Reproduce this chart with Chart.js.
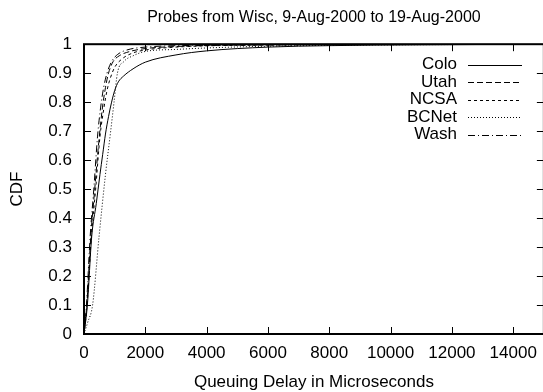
<!DOCTYPE html>
<html>
<head>
<meta charset="utf-8">
<script src="https://cdn.jsdelivr.net/npm/chart.js@4/dist/chart.umd.min.js"></script>
<style>
  html, body { margin: 0; padding: 0; background: #fff; overflow: hidden; }
  #wrap { width: 546px; height: 392px; }
</style>
</head>
<body>
<div id="wrap"><canvas id="myChart" width="546" height="392"></canvas></div>
<script>
// values (delay in microseconds -> CDF)
const seriesNames = ['Colo', 'Utah', 'NCSA', 'BCNet', 'Wash'];

const delayColo = [0, 110, 250, 400, 520, 610, 700, 800, 900, 1000, 1120, 1290, 1600, 2000, 3000, 4000, 6000, 8000, 11000, 15000];
const cdfColo   = [0, 0.1, 0.335, 0.45, 0.55, 0.62, 0.69, 0.75, 0.80, 0.84, 0.87, 0.89, 0.915, 0.938, 0.963, 0.977, 0.99, 0.995, 0.998, 1];

const delayUtah = [0, 90, 220, 350, 480, 600, 700, 800, 950, 1150, 1500, 2000, 3000, 5000, 15000];
const cdfUtah   = [0, 0.1, 0.335, 0.5, 0.66, 0.78, 0.85, 0.9, 0.94, 0.96, 0.975, 0.985, 0.992, 0.997, 1];

const delayNcsa = [0, 100, 240, 380, 520, 650, 750, 850, 1000, 1250, 1600, 2000, 3000, 5000, 15000];
const cdfNcsa   = [0, 0.1, 0.335, 0.5, 0.68, 0.78, 0.84, 0.88, 0.92, 0.95, 0.97, 0.98, 0.99, 0.996, 1];

const delayBcnet = [0, 120, 280, 490, 700, 870, 980, 1090, 1300, 1600, 2000, 3000, 4000, 6000, 9000, 15000];
const cdfBcnet   = [0, 0.04, 0.1, 0.335, 0.55, 0.70, 0.80, 0.90, 0.94, 0.96, 0.975, 0.982, 0.987, 0.993, 0.997, 1];

const delayWash = [0, 80, 200, 320, 440, 540, 640, 750, 900, 1100, 1400, 2000, 4000, 15000];
const cdfWash   = [0, 0.1, 0.335, 0.5, 0.68, 0.78, 0.85, 0.9, 0.94, 0.965, 0.98, 0.99, 0.996, 1];

const xTicks = [0, 2000, 4000, 6000, 8000, 10000, 12000, 14000];
const yTicks = [0, 0.1, 0.2, 0.3, 0.4, 0.5, 0.6, 0.7, 0.8, 0.9, 1];

const FONT = 'Liberation Sans, Arial, sans-serif';

function pts(xs, ys) { return xs.map((x, i) => ({x: x, y: ys[i]})); }

const dashes = {
  Colo: [],
  Utah: [6, 3],
  NCSA: [3, 3],
  BCNet: [1, 2],
  Wash: [7, 3, 1, 3]
};

const allData = [
  pts(delayColo, cdfColo),
  pts(delayUtah, cdfUtah),
  pts(delayNcsa, cdfNcsa),
  pts(delayBcnet, cdfBcnet),
  pts(delayWash, cdfWash)
];

const datasets = seriesNames.map((name, i) => ({
  label: name,
  data: allData[i],
  borderColor: '#000',
  borderWidth: 1,
  borderDash: dashes[name],
  pointRadius: 0,
  fill: false,
  cubicInterpolationMode: 'monotone'
}));

// frame, inward ticks on all four sides, and gnuplot-like key
const gnuplotFrame = {
  id: 'gnuplotFrame',
  afterDatasetsDraw(chart) {
    const ctx = chart.ctx;
    const a = chart.chartArea;
    const xs = chart.scales.x, ys = chart.scales.y;
    ctx.save();
    ctx.strokeStyle = '#000';
    ctx.lineWidth = 1;
    ctx.setLineDash([]);
    ctx.beginPath();
    xTicks.forEach(v => {
      const px = Math.round(xs.getPixelForValue(v)) + 0.5;
      ctx.moveTo(px, a.bottom); ctx.lineTo(px, a.bottom - 7);
      ctx.moveTo(px, a.top); ctx.lineTo(px, a.top + 7);
    });
    yTicks.forEach(v => {
      const py = Math.round(ys.getPixelForValue(v)) + 0.5;
      ctx.moveTo(a.left, py); ctx.lineTo(a.left + 7, py);
      ctx.moveTo(a.right, py); ctx.lineTo(a.right - 7, py);
    });
    ctx.stroke();
    ctx.lineWidth = 2;
    ctx.strokeRect(a.left, a.top, a.right - a.left, a.bottom - a.top);

    // key
    ctx.font = '17px ' + FONT;
    ctx.fillStyle = '#000';
    ctx.textAlign = 'right';
    ctx.textBaseline = 'middle';
    ctx.lineWidth = 1;
    seriesNames.forEach((name, i) => {
      const y = 64.5 + i * 17.5;
      ctx.fillText(name, 457, y);
      ctx.setLineDash(dashes[name]);
      ctx.beginPath();
      ctx.moveTo(468, Math.round(y) + 0.5);
      ctx.lineTo(522, Math.round(y) + 0.5);
      ctx.stroke();
    });
    ctx.restore();
  }
};

const config = {
  type: 'line',
  data: { datasets },
  options: {
    responsive: false,
    animation: false,
    layout: { padding: { left: 0, right: 1, top: 0, bottom: 0 } },
    scales: {
      x: {
        type: 'linear',
        min: 0,
        max: 15000,
        afterBuildTicks: s => { s.ticks = xTicks.map(v => ({value: v})); },
        afterFit: s => { s.height = 58; },
        grid: { display: false, drawTicks: false },
        border: { display: false },
        ticks: {
          color: '#000',
          padding: 9,
          maxRotation: 0,
          autoSkip: false,
          font: { family: FONT, size: 17 },
          callback: v => String(v)
        },
        title: {
          display: true,
          text: 'Queuing Delay in Microseconds',
          color: '#000',
          font: { family: FONT, size: 17 },
          padding: { top: 0, bottom: -1 }
        }
      },
      y: {
        type: 'linear',
        min: 0,
        max: 1,
        afterBuildTicks: s => { s.ticks = yTicks.map(v => ({value: v})); },
        afterFit: s => { s.width = 84; },
        grid: { display: false, drawTicks: false },
        border: { display: false },
        ticks: {
          color: '#000',
          padding: 12,
          autoSkip: false,
          font: { family: FONT, size: 17 },
          callback: v => String(Math.round(v * 10) / 10)
        },
        title: {
          display: true,
          text: 'CDF',
          color: '#000',
          font: { family: FONT, size: 17 },
          padding: { top: 7, bottom: 0 }
        }
      }
    },
    plugins: {
      legend: { display: false },
      tooltip: { enabled: false },
      title: {
        display: true,
        fullSize: false,
        text: 'Probes from Wisc, 9-Aug-2000 to 19-Aug-2000',
        color: '#000',
        font: { family: FONT, size: 16, weight: 'normal' },
        padding: { top: 8, bottom: 17 }
      }
    }
  },
  plugins: [gnuplotFrame]
};

const myChart = new Chart(document.getElementById('myChart'), config);
</script>
</body>
</html>
